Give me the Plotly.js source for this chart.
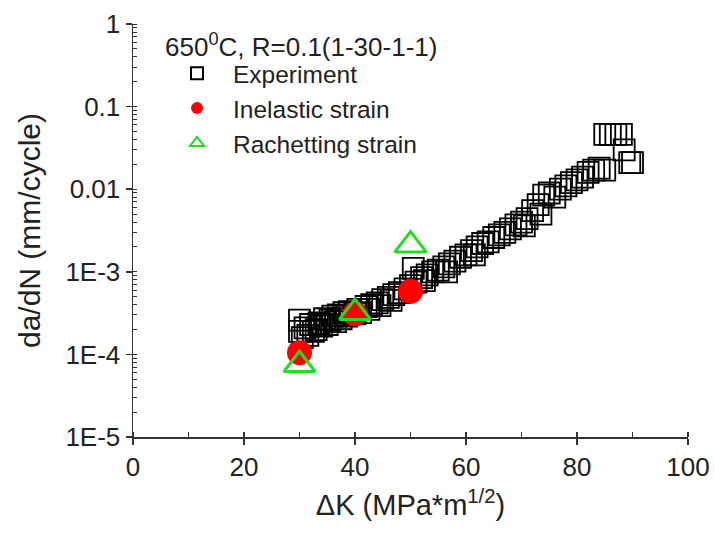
<!DOCTYPE html>
<html>
<head>
<meta charset="utf-8">
<script src="https://cdn.plot.ly/plotly-3.0.1.min.js"></script>
<style>html,body{margin:0;padding:0;background:#fff}#chart{width:715px;height:536px}</style>
</head>
<body>
<div id="chart"></div>
<script>
// Experiment data (ΔK, da/dN)
var expX = [30,30,30.5,31,31.5,32,32.5,33,33.5,34,34.5,35,35.5,36,36.5,37,37.5,38,38.5,39,40,40.5,41,42,42.5,43,44,44.5,45,46,46.5,47,48,49,50,50.5,51,52,52.5,53,54,55,56,56.5,57,58,59,60,61,61.5,62,63,64,65,66,67,68,69,70,70.5,71,72,73,73.5,74,75,76,77,78,79,80,81,82,83,84,85,85,86,87,88,88.5,89.5,90];
var expY = [2.6e-4,1.9e-4,1.6e-4,2.1e-4,1.7e-4,2.3e-4,1.9e-4,2.0e-4,2.4e-4,2.2e-4,2.7e-4,2.3e-4,2.6e-4,2.9e-4,2.5e-4,3.0e-4,2.7e-4,3.2e-4,2.9e-4,3.3e-4,3.1e-4,3.5e-4,3.2e-4,3.8e-4,3.5e-4,4.0e-4,4.2e-4,3.9e-4,4.6e-4,4.9e-4,4.5e-4,5.3e-4,5.6e-4,6.2e-4,6.8e-4,1.1e-3,7.5e-4,8.5e-4,7.8e-4,9.2e-4,1.0e-3,1.05e-3,1.15e-3,1.0e-3,1.25e-3,1.35e-3,1.5e-3,1.6e-3,1.8e-3,1.6e-3,2.0e-3,2.2e-3,2.3e-3,2.6e-3,2.8e-3,3.0e-3,3.3e-3,3.7e-3,4.0e-3,3.6e-3,4.4e-3,5.5e-3,6.5e-3,5.0e-3,8.5e-3,9.0e-3,8.0e-3,1.0e-2,1.1e-2,1.2e-2,1.3e-2,1.4e-2,1.6e-2,1.7e-2,1.8e-2,1.7e-2,4.6e-2,4.6e-2,4.6e-2,4.6e-2,3.0e-2,2.1e-2,2.1e-2];
// Inelastic strain model
var inelX = [30,40,50];
var inelY = [1.05e-4,3.1e-4,5.8e-4];
// Rachetting strain model
var rachX = [30,40,50];
var rachY = [7.5e-5,3.2e-4,2.1e-3];
// Tick labels
var yTickVals = [1e-5,1e-4,1e-3,1e-2,1e-1,1];
var yTickText = ['1E-5','1E-4','1E-3','0.01','0.1','1'];
var xTickVals = [0,20,40,60,80,100];
var legendTitle = '650<sup>0</sup>C, R=0.1(1-30-1-1)';

var FONT = 'Liberation Sans, Arial, sans-serif';
var traces = [
  {x: expX, y: expY, type: 'scatter', mode: 'markers', name: 'Experiment',
   marker: {symbol: 'square-open', size: 21, color: '#000', line: {width: 1.8, color: '#000'}}},
  {x: inelX, y: inelY, type: 'scatter', mode: 'markers', name: 'Inelastic strain',
   marker: {symbol: 'circle', size: 25, color: '#ff0000', line: {width: 0}}},
  {x: rachX, y: rachY, type: 'scatter', mode: 'markers', name: 'Rachetting strain',
   marker: {symbol: 'triangle-up-open', size: 27, color: '#22dd22', line: {width: 3, color: '#22dd22'}}}
];
var layout = {
  width: 715, height: 536,
  margin: {l: 133, r: 27, t: 24, b: 99},
  paper_bgcolor: '#fff', plot_bgcolor: '#fff',
  font: {family: FONT, color: '#222', size: 26},
  showlegend: true,
  legend: {
    x: 0.0505, y: 0.935, xanchor: 'left', yanchor: 'top',
    bgcolor: 'rgba(0,0,0,0)', borderwidth: 0,
    itemsizing: 'constant', itemwidth: 62,
    font: {family: FONT, size: 24.5, color: '#222'},
    tracegroupgap: 0
  },
  annotations: [{
    text: legendTitle, xref: 'paper', yref: 'paper', x: 0.054, y: 0.949,
    xanchor: 'left', yanchor: 'middle', showarrow: false,
    font: {family: FONT, size: 26, color: '#222'}
  }],
  xaxis: {
    range: [0, 100], tickvals: xTickVals, showgrid: false, zeroline: false,
    showline: true, linecolor: '#333', linewidth: 1.5, mirror: false,
    ticks: 'outside', ticklen: 6, tickwidth: 1.5, tickcolor: '#333',
    minor: {dtick: 10, ticks: 'inside', ticklen: 5, tickwidth: 1.5, tickcolor: '#333', showgrid: false},
    tickfont: {family: FONT, size: 26, color: '#222'},
    title: {text: '\u0394K (MPa*m<sup>1/2</sup>)', font: {family: FONT, size: 29, color: '#222'}, standoff: 14}
  },
  yaxis: {
    type: 'log', range: [-5, 0], tickvals: yTickVals, ticktext: yTickText,
    showgrid: false, zeroline: false,
    showline: true, linecolor: '#333', linewidth: 1.5,
    ticks: 'outside', ticklen: 6, tickwidth: 1.5, tickcolor: '#333',
    minor: {dtick: 'D1', ticks: 'inside', ticklen: 4, tickwidth: 1, tickcolor: '#333', showgrid: false},
    tickfont: {family: FONT, size: 26, color: '#222'},
    title: {text: 'da/dN (mm/cycle)', font: {family: FONT, size: 30, color: '#222'}, standoff: 16}
  }
};
Plotly.newPlot('chart', traces, layout, {displayModeBar: false, staticPlot: true});
</script>
</body>
</html>
